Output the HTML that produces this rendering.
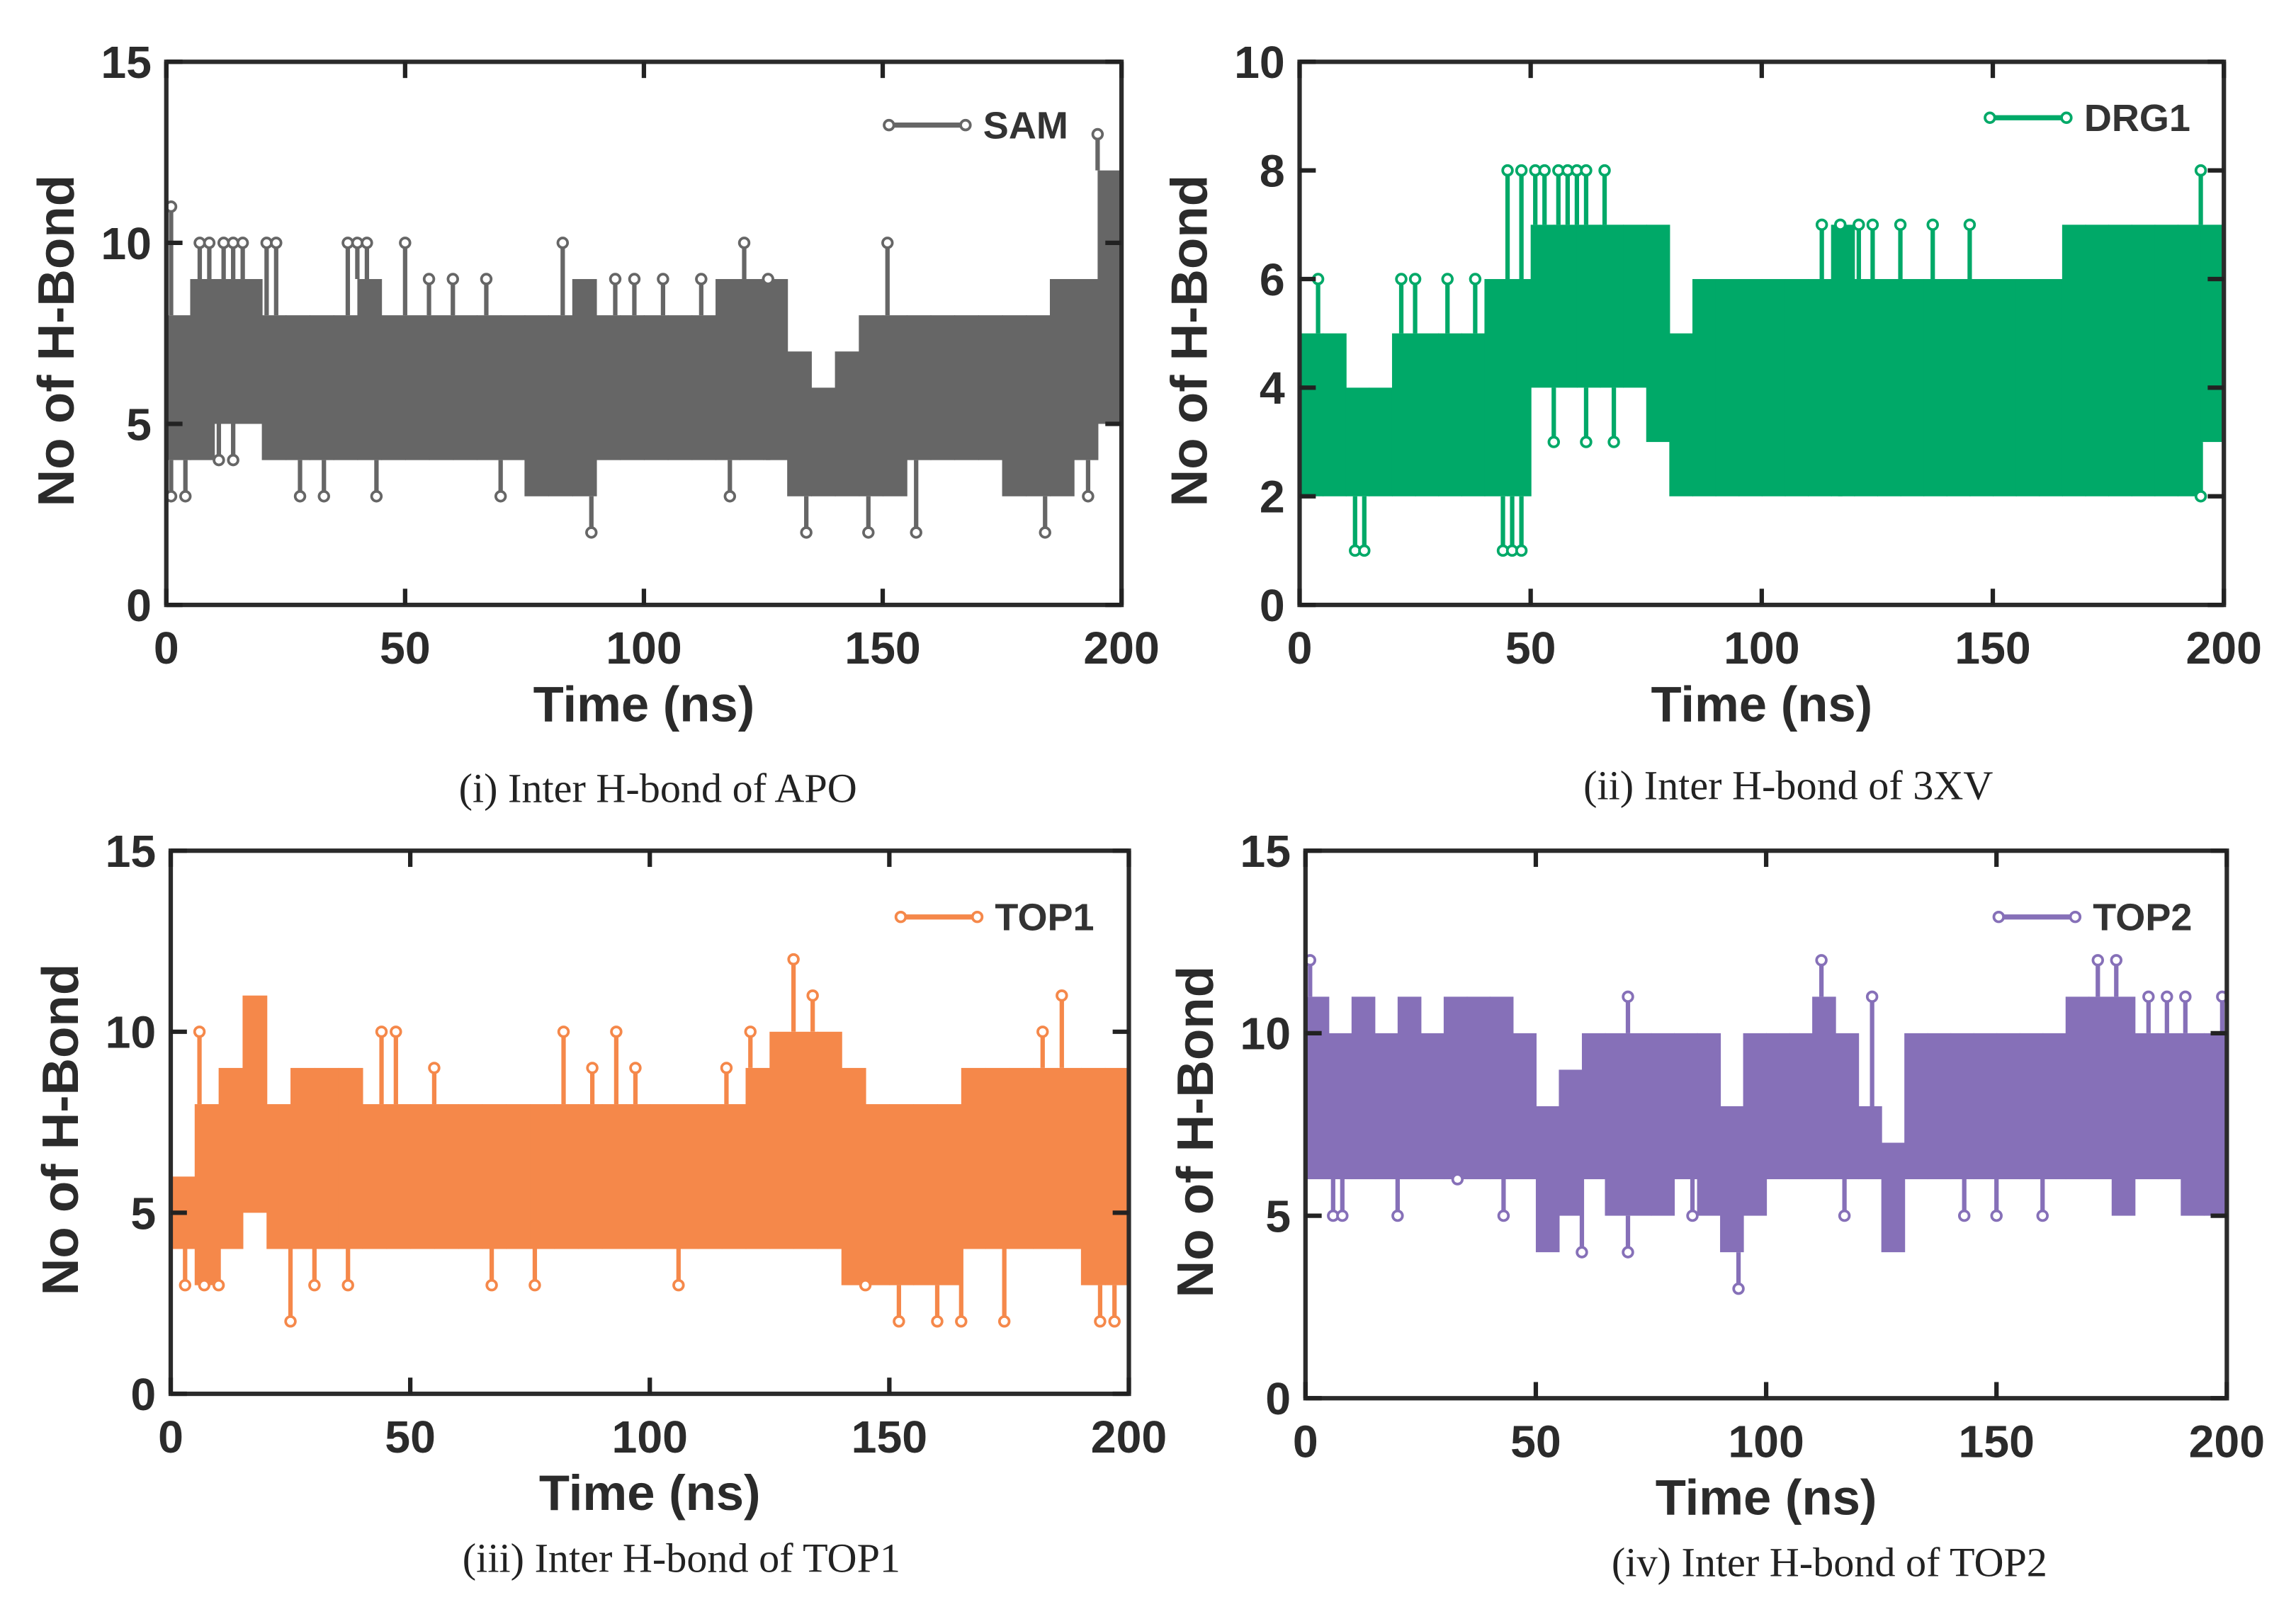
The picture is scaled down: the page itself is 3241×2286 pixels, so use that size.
<!DOCTYPE html>
<html><head><meta charset="utf-8">
<style>
html,body{margin:0;padding:0;background:#fff;}
svg{display:block;}
.tk{font-family:"Liberation Sans",sans-serif;font-size:31px;font-weight:bold;fill:#2b2b2b;}
.ttl{font-family:"Liberation Sans",sans-serif;font-size:34px;font-weight:bold;fill:#2b2b2b;}
.ytl{font-family:"Liberation Sans",sans-serif;font-size:35px;font-weight:bold;fill:#2b2b2b;}
.cap{font-family:"Liberation Serif",serif;font-size:28px;fill:#222;}
.lg{font-family:"Liberation Sans",sans-serif;font-size:26px;font-weight:bold;fill:#333;}
</style></head>
<body>
<svg id="fig" width="3241" height="2286" viewBox="0 0 1560 1100" preserveAspectRatio="none" xmlns="http://www.w3.org/2000/svg"></svg>
<script>
// ---- Panel data (40 bins of 5 ns each; band low/high values) ----
const samLo = [4,4,5,5,4,4,4,4,4,4,4,4,4,4,4,3,3,3,4,4,4,4,4,4,4,4,3,3,3,3,3,4,4,4,4,3,3,3,4,5];
const samHi = [8,9,9,9,8,8,8,8,9,8,8,8,8,8,8,8,8,9,8,8,8,8,8,9,9,9,7,6,7,8,8,8,8,8,8,8,8,9,9,12];
const samSpikeT = [1,1,4,7,9,12,14,16,21,23,11,14,28,33,38,40,42,44,50,55,60,67,70,83,89,94,98,104,112,118,121,126,134,147,151,157,184,195,193];
const samSpikeV = [11,3,3,10,10,10,10,10,10,10,4,4,3,3,10,10,10,3,10,9,9,9,3,10,2,9,9,9,9,3,10,9,2,2,10,2,2,13,3];

const drgLo = [2,2,2,2,2,2,2,2,2,2,4,4,4,4,4,3,2,2,2,2,2,2,2,2,2,2,2,2,2,2,2,2,2,2,2,2,2,2,2,3];
const drgHi = [5,5,4,4,5,5,5,5,6,6,7,7,7,7,7,7,5,6,6,6,6,6,6,7,6,6,6,6,6,6,6,6,6,7,7,7,7,7,7,7];
const drgSpikeT = [4,12,14,22,25,32,38,44,46,48,45,48,51,53,56,58,60,62,66,55,62,68,113,117,121,124,130,137,145,195,195];
const drgSpikeV = [6,1,1,6,6,6,6,1,1,1,8,8,8,8,8,8,8,8,8,3,3,3,7,7,7,7,7,7,7,8,2];

const top1Lo = [4,3,4,5,4,4,4,4,4,4,4,4,4,4,4,4,4,4,4,4,4,4,4,4,4,4,4,4,3,3,3,3,3,4,4,4,4,4,3,3];
const top1Hi = [6,8,9,11,8,9,9,9,8,8,8,8,8,8,8,8,8,8,8,8,8,8,8,8,9,10,10,10,9,8,8,8,8,9,9,9,9,9,9,9];
const top1SpikeT = [3,6,7,10,25,30,37,44,47,55,67,76,82,88,93,97,106,116,121,130,134,145,152,160,165,174,182,186,194,197];
const top1SpikeV = [3,10,3,3,2,3,3,10,10,9,3,3,10,9,10,9,3,9,10,12,11,3,2,2,2,2,10,11,2,2];

const top2Lo = [6,6,6,6,6,6,6,6,6,6,4,5,6,5,5,5,6,5,4,5,6,6,6,6,6,4,6,6,6,6,6,6,6,6,6,5,6,6,5,5];
const top2Hi = [11,10,11,10,11,10,11,11,11,10,8,9,10,10,10,10,10,10,8,10,10,10,11,10,8,7,10,10,10,10,10,10,10,11,11,11,10,10,10,10];
const top2SpikeT = [1,6,8,20,33,43,60,70,70,84,94,112,117,123,143,150,160,172,176,183,187,191,199];
const top2SpikeV = [12,5,5,5,6,5,4,11,4,5,3,12,5,11,5,5,5,12,12,11,11,11,11];

const xTicks = [0,50,100,150,200];
const yTicks15 = [0,5,10,15];
const yTicks10 = [0,2,4,6,8,10];

const panels = [
 {id:'apo', x0:113,x1:762,y0:42,y1:411,ymax:15,yt:yTicks15,color:'#666666',lo:samLo,hi:samHi,st:samSpikeT,sv:samSpikeV,
  leg:'SAM',lx:604,ly:85,cap:'(i) Inter H-bond of APO',cx:447,cy:545},
 {id:'3xv', x0:883,x1:1511,y0:42,y1:411,ymax:10,yt:yTicks10,color:'#00a968',lo:drgLo,hi:drgHi,st:drgSpikeT,sv:drgSpikeV,
  leg:'DRG1',lx:1352,ly:80,cap:'(ii) Inter H-bond of 3XV',cx:1215,cy:543},
 {id:'top1', x0:116,x1:767,y0:578,y1:947,ymax:15,yt:yTicks15,color:'#f5884a',lo:top1Lo,hi:top1Hi,st:top1SpikeT,sv:top1SpikeV,
  leg:'TOP1',lx:612,ly:623,cap:'(iii) Inter H-bond of TOP1',cx:463,cy:1068},
 {id:'top2', x0:887,x1:1513,y0:578,y1:950,ymax:15,yt:yTicks15,color:'#8670b8',lo:top2Lo,hi:top2Hi,st:top2SpikeT,sv:top2SpikeV,
  leg:'TOP2',lx:1358,ly:623,cap:'(iv) Inter H-bond of TOP2',cx:1243,cy:1071}
];

const NS='http://www.w3.org/2000/svg';
const svg=document.getElementById('fig');
function mk(tag,attrs,parent){const e=document.createElementNS(NS,tag);for(const k in attrs)e.setAttribute(k,attrs[k]);(parent||svg).appendChild(e);return e;}

panels.forEach(p=>{
  const g=mk('g',{});
  
  
  const sx=t=>p.x0+(t/200)*(p.x1-p.x0);
  const sy=v=>p.y1-(v/p.ymax)*(p.y1-p.y0);
  const bw=5;
  p.lo.forEach((lo,i)=>{
    const r=mk('rect',{x:sx(i*bw),y:sy(p.hi[i]),width:sx((i+1)*bw)-sx(i*bw)+0.5,height:sy(lo)-sy(p.hi[i]),fill:p.color},g);
    
    
  });
  p.st.forEach((t,i)=>{
    const v=p.sv[i];
    const bi=Math.min(39,Math.floor(t/bw));
    const base=v>p.hi[bi]?p.hi[bi]:p.lo[bi];
    const l=mk('line',{x1:sx(t),x2:sx(t),y1:sy(base),y2:sy(v),stroke:p.color,'stroke-width':3},g);
    
    
    const c=mk('circle',{cx:sx(t),cy:sy(v),r:3.3,fill:'#fff',stroke:p.color,'stroke-width':1.8},g);
    
    
  });
  const f=mk('rect',{x:p.x0,y:p.y0,width:p.x1-p.x0,height:p.y1-p.y0,fill:'none',stroke:'#2b2b2b','stroke-width':3},g);
  
  
  xTicks.forEach(t=>{
    const x=sx(t);
    mk('line',{x1:x,x2:x,y1:p.y1,y2:p.y1-11,stroke:'#222','stroke-width':3},g);
    mk('line',{x1:x,x2:x,y1:p.y0,y2:p.y0+11,stroke:'#222','stroke-width':3},g);
    const tx=mk('text',{x:x,y:p.y1+40,'text-anchor':'middle',class:'tk'},g);
    tx.textContent=t;
    
    
  });
  p.yt.forEach(v=>{
    const y=sy(v);
    mk('line',{x1:p.x0,x2:p.x0+11,y1:y,y2:y,stroke:'#222','stroke-width':3},g);
    mk('line',{x1:p.x1,x2:p.x1-11,y1:y,y2:y,stroke:'#222','stroke-width':3},g);
    const tx=mk('text',{x:p.x0-10,y:y+11,'text-anchor':'end',class:'tk'},g);
    tx.textContent=v;
    
    
  });
  const xt=mk('text',{x:(p.x0+p.x1)/2,y:p.y1+79,'text-anchor':'middle',class:'ttl'},g);
  xt.textContent='Time (ns)';
  
  
  const yc=(p.y0+p.y1)/2+5, yx=p.x0-63;
  const yt=mk('text',{x:yx,y:yc,'text-anchor':'middle',class:'ytl',transform:`rotate(-90 ${yx} ${yc})`},g);
  yt.textContent='No of H-Bond';
  
  
  const lg=mk('g',{},g);
  
  
  mk('line',{x1:p.lx,x2:p.lx+52,y1:p.ly,y2:p.ly,stroke:p.color,'stroke-width':3.5},lg);
  mk('circle',{cx:p.lx,cy:p.ly,r:3.3,fill:'#fff',stroke:p.color,'stroke-width':1.8},lg);
  mk('circle',{cx:p.lx+52,cy:p.ly,r:3.3,fill:'#fff',stroke:p.color,'stroke-width':1.8},lg);
  const lt=mk('text',{x:p.lx+64,y:p.ly+9,class:'lg'},lg);
  lt.textContent=p.leg;
  const cp=mk('text',{x:p.cx,y:p.cy,'text-anchor':'middle',class:'cap'},g);
  cp.textContent=p.cap;
  
  
});
</script>
</body></html>
